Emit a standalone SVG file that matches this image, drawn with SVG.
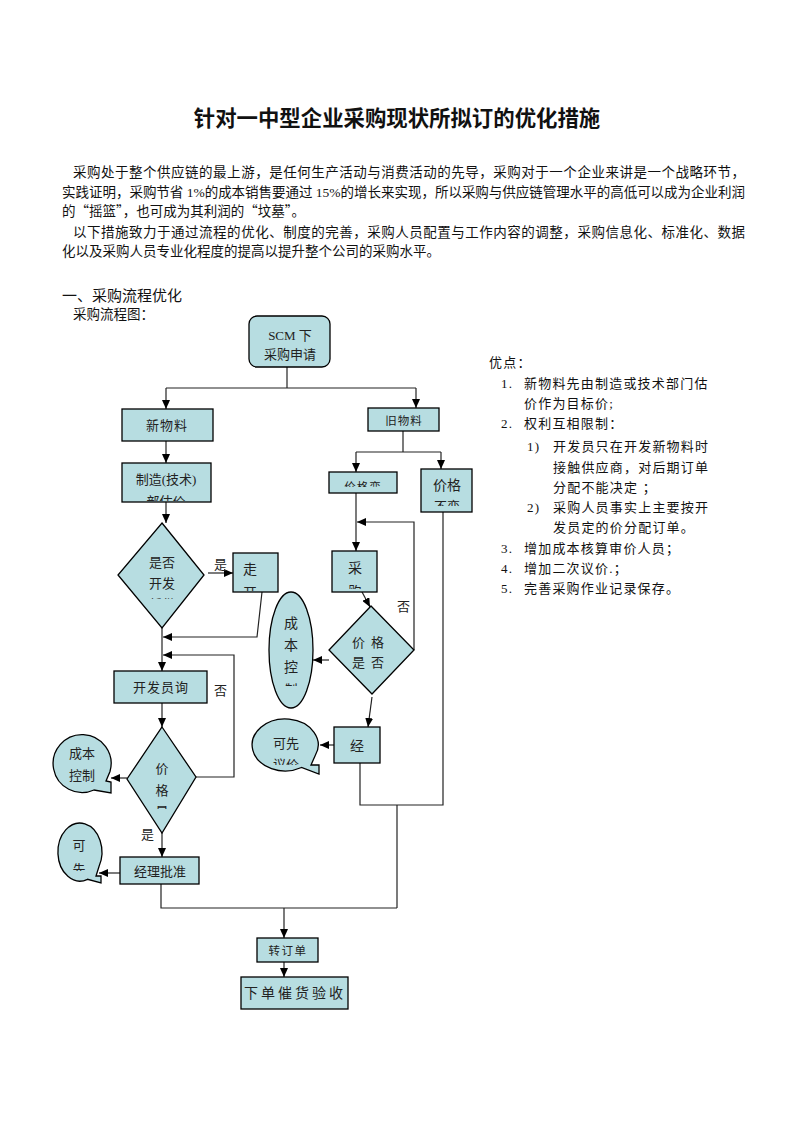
<svg xmlns="http://www.w3.org/2000/svg" width="793" height="1122" viewBox="0 0 793 1122">
<style>
.bg{fill:#fff}
.n{fill:#b7dde1;stroke:#000;stroke-width:1.3}
.t{font-family:"Liberation Serif","Noto Sans CJK SC",serif;font-size:13px;fill:#222;text-anchor:middle}
.s{font-size:11.5px}
.b{font-size:14px}
.p{font-family:"Liberation Serif","Noto Sans CJK SC",serif;font-size:13.5px;fill:#111}
.q{font-family:"Noto Sans CJK SC",sans-serif}
.r{font-family:"Liberation Serif","Noto Sans CJK SC",serif;font-size:13px;fill:#111;letter-spacing:1.2px}
.c{fill:none;stroke:#222;stroke-width:1.2}
.a{marker-end:url(#ah)}
.lb{font-family:"Liberation Serif","Noto Sans CJK SC",serif;font-size:13px;fill:#222}
</style>
<defs>
<marker id="ah" markerUnits="userSpaceOnUse" markerWidth="9" markerHeight="8" refX="9" refY="4" orient="auto">
<path d="M0,0 L9,4 L0,8 z" fill="#000"/>
</marker>
<clipPath id="cZZ"><rect x="122" y="463" width="89" height="38"/></clipPath>
<clipPath id="cD1"><rect x="110" y="520" width="100" height="79"/></clipPath>
<clipPath id="cZK"><rect x="233" y="553" width="45" height="38"/></clipPath>
<clipPath id="cD2"><rect x="120" y="725" width="80" height="84"/></clipPath>
<clipPath id="cKX"><rect x="55" y="820" width="50" height="51"/></clipPath>
<clipPath id="cJB"><rect x="329" y="472" width="68" height="15"/></clipPath>
<clipPath id="cJBB"><rect x="421" y="469" width="51" height="37"/></clipPath>
<clipPath id="cCG"><rect x="332" y="551" width="45" height="38"/></clipPath>
<clipPath id="cEL"><rect x="268" y="592" width="46" height="94"/></clipPath>
<clipPath id="cKY"><rect x="250" y="718" width="72" height="47"/></clipPath>
<clipPath id="cJW"><rect x="368" y="408" width="71" height="20"/></clipPath>
</defs>
<rect class="bg" x="0" y="0" width="793" height="1122"/>

<g id="header">
<text x="397" y="126" text-anchor="middle" font-family="'Liberation Serif','Noto Sans CJK SC',serif" font-size="21.4" font-weight="bold" fill="#111">针对一中型企业采购现状所拟订的优化措施</text>
<text class="p" x="73" y="177" textLength="672" lengthAdjust="spacing">采购处于整个供应链的最上游，是任何生产活动与消费活动的先导，采购对于一个企业来讲是一个战略环节，</text>
<text class="p" x="62" y="197" textLength="683" lengthAdjust="spacing">实践证明，采购节省 1%的成本销售要通过 15%的增长来实现，所以采购与供应链管理水平的高低可以成为企业利润</text>
<text class="p" x="62" y="216">的<tspan class="q">“</tspan>摇篮<tspan class="q">”</tspan>，也可成为其利润的<tspan class="q">“</tspan>坟墓<tspan class="q">”</tspan>。</text>
<text class="p" x="73" y="237" textLength="672" lengthAdjust="spacing">以下措施致力于通过流程的优化、制度的完善，采购人员配置与工作内容的调整，采购信息化、标准化、数据</text>
<text class="p" x="62" y="256">化以及采购人员专业化程度的提高以提升整个公司的采购水平。</text>
<text x="62" y="301" font-family="'Liberation Serif','Noto Sans CJK SC',serif" font-size="15" fill="#111">一、采购流程优化</text>
<text class="p" x="73" y="319">采购流程图：</text>
</g>

<g id="advantages">
<text class="r" x="489" y="367">优点：</text>
<text class="r" x="501" y="388">1.</text>
<text class="r" x="524" y="388">新物料先由制造或技术部门估</text>
<text class="r" x="524" y="408">价作为目标价;</text>
<text class="r" x="501" y="428">2.</text>
<text class="r" x="524" y="428">权利互相限制：</text>
<text class="r" x="527" y="451">1)</text>
<text class="r" x="553" y="451">开发员只在开发新物料时</text>
<text class="r" x="553" y="472">接触供应商，对后期订单</text>
<text class="r" x="553" y="492">分配不能决定 ；</text>
<text class="r" x="527" y="512">2)</text>
<text class="r" x="553" y="512">采购人员事实上主要按开</text>
<text class="r" x="553" y="532">发员定的价分配订单。</text>
<text class="r" x="501" y="553">3.</text>
<text class="r" x="524" y="553">增加成本核算审价人员；</text>
<text class="r" x="501" y="573">4.</text>
<text class="r" x="524" y="573">增加二次议价.；</text>
<text class="r" x="501" y="593">5.</text>
<text class="r" x="524" y="593">完善采购作业记录保存。</text>
</g>

<g id="connectors">
<path class="c" d="M287,367 V388"/>
<path class="c" d="M166,388 H416"/>
<path class="c a" d="M166,388 V409"/>
<path class="c a" d="M416,388 V408"/>
<path class="c a" d="M166,441 V463"/>
<path class="c a" d="M166,502 V523"/>
<path class="c a" d="M208,573 H233"/>
<path class="c a" d="M262,592 L257,637 H163"/>
<path class="c a" d="M162,628 V671"/>
<path class="c a" d="M196,777 H234 V655 H163"/>
<path class="c a" d="M162,703 V727"/>
<path class="c a" d="M127,778 H111"/>
<path class="c a" d="M162,833 V857"/>
<path class="c a" d="M120,873 H99"/>
<path class="c" d="M161,884 V908 H397"/>
<path class="c" d="M397,805 V908"/>
<path class="c a" d="M284,908 V938"/>
<path class="c a" d="M284,962 V977"/>
<path class="c" d="M403,431 V452"/>
<path class="c" d="M356,452 H441"/>
<path class="c a" d="M356,452 V472"/>
<path class="c a" d="M441,452 V469"/>
<path class="c a" d="M356,493 V551"/>
<path class="c a" d="M414,650 V522 H357"/>
<path class="c a" d="M361,590 L370,607"/>
<path class="c a" d="M329,660 H313"/>
<path class="c a" d="M372,697 L368,727"/>
<path class="c a" d="M334,745 H320"/>
<path class="c" d="M360,763 V805 H443 V512"/>
<text class="lb" x="214" y="569">是</text>
<text class="lb" x="214" y="695">否</text>
<text class="lb" x="141" y="839">是</text>
<text class="lb" x="397" y="611">否</text>
</g>

<g id="scm">
<rect class="n" x="249" y="316" width="81" height="51" rx="8"/>
<text class="t" x="290" y="340">SCM 下</text>
<text class="t" x="290" y="359">采购申请</text>
</g>
<g id="new-material">
<rect class="n" x="122" y="409" width="91" height="32"/>
<text class="t" x="167" y="430" letter-spacing="1">新物料</text>
</g>
<g id="old-material">
<rect class="n" x="368" y="408" width="71" height="23"/>
<text class="t s" x="404" y="425" letter-spacing="1" clip-path="url(#cJW)">旧物料</text>
</g>
<g id="mfg-estimate">
<rect class="n" x="122" y="463" width="89" height="39"/>
<g clip-path="url(#cZZ)">
<text class="t" x="166" y="484">制造(技术)</text>
<text class="t" x="166" y="506">部估价</text>
</g>
</g>
<g id="is-new-supplier">
<polygon class="n" points="162,523 204,575 162,628 118,575"/>
<g clip-path="url(#cD1)">
<text class="t" x="162" y="567">是否</text>
<text class="t" x="162" y="588">开发</text>
<text class="t" x="162" y="609">新供</text>
</g>
</g>
<g id="go-dev">
<rect class="n" x="233" y="553" width="45" height="39"/>
<g clip-path="url(#cZK)">
<text class="t b" x="250" y="574">走</text>
<text class="t b" x="250" y="598">开</text>
</g>
</g>
<g id="dev-inquiry">
<rect class="n" x="114" y="671" width="93" height="32"/>
<text class="t" x="161" y="692" letter-spacing="1">开发员询</text>
</g>
<g id="price-ok-1">
<polygon class="n" points="162,727 196,777 162,833 127,779"/>
<g clip-path="url(#cD2)">
<text class="t" x="162" y="773">价</text>
<text class="t" x="162" y="795">格</text>
<text class="t" x="162" y="816">是</text>
</g>
</g>
<g id="cost-control-1">
<path class="n" d="M94,790 A29,29 0 1 1 110,771.5 L106,781 L111,782 L111,793 Z"/>
<text class="t" x="82" y="758">成本</text>
<text class="t" x="82" y="780">控制</text>
</g>
<g id="manager-approve">
<rect class="n" x="120" y="857" width="79" height="27"/>
<text class="t" x="160" y="876">经理批准</text>
</g>
<g id="can-first-1">
<path class="n" d="M87.5,879.3 A22,29 0 1 1 99,866.5 L96,876 L101,876 L101,883 Z"/>
<g clip-path="url(#cKX)">
<text class="t" x="79" y="850">可</text>
<text class="t" x="79" y="874">先</text>
</g>
</g>
<g id="price-changed">
<rect class="n" x="329" y="472" width="68" height="21"/>
<text class="t s" x="363" y="491" letter-spacing="1" clip-path="url(#cJB)">价格变</text>
</g>
<g id="price-unchanged">
<rect class="n" x="421" y="469" width="51" height="43"/>
<g clip-path="url(#cJBB)">
<text class="t b" x="447" y="490">价格</text>
<text class="t" x="447" y="511">不变</text>
</g>
</g>
<g id="purchase">
<rect class="n" x="332" y="551" width="45" height="41"/>
<g clip-path="url(#cCG)">
<text class="t b" x="355" y="573">采</text>
<text class="t" x="355" y="596">购</text>
</g>
</g>
<g id="price-ok-2">
<polygon class="n" points="371,606 414,650 372,694 329,650"/>
<text class="t" x="371" y="647" letter-spacing="6">价格</text>
<text class="t" x="371" y="667" letter-spacing="6">是否</text>
</g>
<g id="cost-control-2">
<ellipse class="n" cx="291" cy="650" rx="22" ry="58"/>
<g clip-path="url(#cEL)">
<text class="t b" x="291" y="628">成</text>
<text class="t b" x="291" y="650">本</text>
<text class="t b" x="291" y="672">控</text>
<text class="t" x="291" y="694">制</text>
</g>
</g>
<g id="manager">
<rect class="n" x="334" y="727" width="46" height="36"/>
<text class="t b" x="357" y="751">经</text>
</g>
<g id="can-first-2">
<path class="n" d="M301.5,767.5 A33,26 0 1 1 315,756 L311,765 L319,765 L319,774 Z"/>
<g clip-path="url(#cKY)">
<text class="t" x="286" y="748">可先</text>
<text class="t" x="286" y="769">议价</text>
</g>
</g>
<g id="to-order">
<rect class="n" x="257" y="938" width="61" height="24"/>
<text class="t s" x="288" y="955" letter-spacing="1.5">转订单</text>
</g>
<g id="order-receive">
<rect class="n" x="241" y="977" width="107" height="32"/>
<text class="t b" x="295" y="998" letter-spacing="3">下单催货验收</text>
</g>
</svg>
